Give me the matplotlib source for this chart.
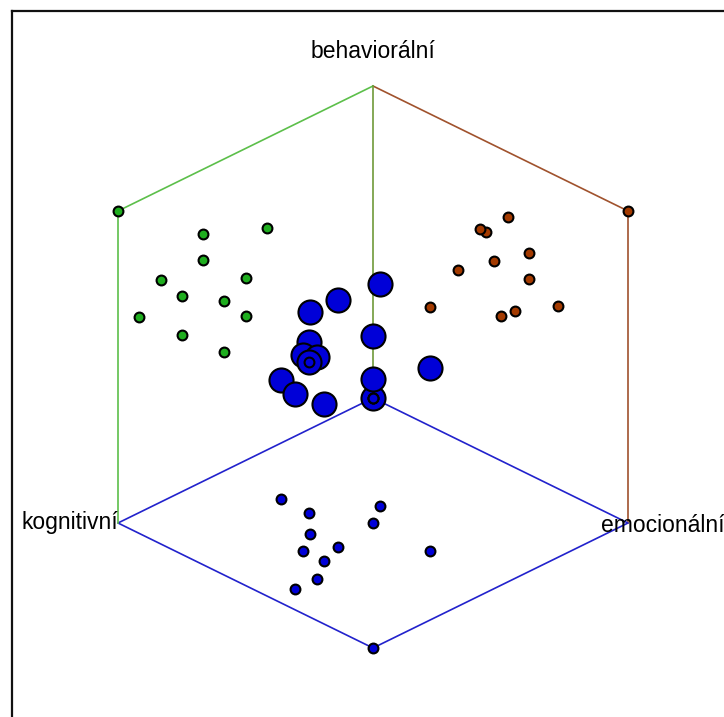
import matplotlib
matplotlib.use("Agg")
import matplotlib.pyplot as plt
import numpy as np

plt.rcParams['font.family'] = ['Liberation Sans', 'DejaVu Sans']

# data: cognitive, emotional, behavioral scores (scaled 0..1)
labels = ["kognitivní", "emocionální", "behaviorální"]
kognitivni   = [1.0, 0.0, 0.500, 0.583, 0.583, 0.417, 0.500, 0.667, 0.667, 0.750, 0.750, 0.833, 0.917]
emocionalni  = [1.0, 0.0, 0.725, 0.222, 0.333, 0.445, 0.500, 0.418, 0.528, 0.4745, 0.557, 0.612, 0.612]
behavioralni = [1.0, 0.0, 0.586, 0.381, 0.545, 0.711, 0.463, 0.710, 0.793, 0.628, 0.503, 0.711, 0.627]
# extra highlighted point (bullseye) without visible projections
extra_kog, extra_emo, extra_beh = [0.667], [0.417], [0.55]

c = np.array(kognitivni)
e = np.array(emocionalni)
b = np.array(behavioralni)

HX, HY, VY = 255.0, 125.0, 312.0
def proj(cc, ee, bb):
    cc, ee, bb = np.asarray(cc, float), np.asarray(ee, float), np.asarray(bb, float)
    return HX * (ee - cc), -HY * (cc + ee) + VY * bb

fig = plt.figure(figsize=(7.24, 7.17), dpi=100)
ax = fig.add_axes([0, 0, 1, 1])
ax.set_xlim(-373, 724 - 373)
ax.set_ylim(-(717 - 398), 398)
ax.axis('off')

GREEN_L, BROWN_L, BLUE_L = '#5cbf4a', '#a0522d', '#2222cc'
GREEN, BROWN, BLUE = '#1fae1f', '#a33a00', '#0000d8'

lw = 1.2
# brown face edges (cognitive = 0)
x, y = proj([0, 0, 0], [0, 1, 1], [1, 1, 0])
ax.plot(x, y, color=BROWN_L, lw=lw, zorder=1)
# blue floor (behavioral = 0)
x, y = proj([0, 1, 1, 0, 0], [0, 0, 1, 1, 0], [0, 0, 0, 0, 0])
ax.plot(x, y, color=BLUE_L, lw=lw, zorder=1)
# green face edges (emotional = 0)
x, y = proj([0, 1, 1], [0, 0, 0], [1, 1, 0])
ax.plot(x, y, color=GREEN_L, lw=lw, zorder=1)
x, y = proj([0, 0], [0, 0], [0, 1])
ax.plot(x, y, color='#6f9a3a', lw=lw, zorder=1)

# 3D points
x, y = proj(c, e, b)
ax.scatter(x, y, s=300, c=BLUE, edgecolors='black', linewidths=1.5, zorder=3)
x, y = proj(extra_kog, extra_emo, extra_beh)
ax.scatter(x, y, s=300, c=BLUE, edgecolors='black', linewidths=1.5, zorder=3)
ax.scatter(x, y, s=50, c=BLUE, edgecolors='black', linewidths=1.5, zorder=4)
# projections
sm = 50
x, y = proj(c, np.zeros_like(e), b)
ax.scatter(x, y, s=sm, c=GREEN, edgecolors='black', linewidths=1.5, zorder=4)
x, y = proj(np.zeros_like(c), e, b)
ax.scatter(x, y, s=sm, c=BROWN, edgecolors='black', linewidths=1.5, zorder=4)
x, y = proj(c, e, np.zeros_like(b))
ax.scatter(x, y, s=sm, c=BLUE, edgecolors='black', linewidths=1.5, zorder=4)

# axis labels
fs = 16.5
x, y = proj(0, 0, 1)
ax.text(x, y + 34, labels[2], ha='center', va='center', fontsize=fs)
x, y = proj(1, 0, 0)
ax.text(x, y, labels[0], ha='right', va='center', fontsize=fs)
x, y = proj(0, 1, 0)
ax.text(x - 27, y - 2, labels[1], ha='left', va='center', fontsize=fs)

# frame (top and left edges visible)
fig.add_artist(plt.Line2D([11.5 / 724, 1], [1 - 10.5 / 717] * 2, color='#111111', lw=1.6,
                          transform=fig.transFigure))
fig.add_artist(plt.Line2D([11.5 / 724] * 2, [0, 1 - 10.5 / 717], color='#111111', lw=1.6,
                          transform=fig.transFigure))

fig.savefig('out.png', dpi=100, facecolor='white')
